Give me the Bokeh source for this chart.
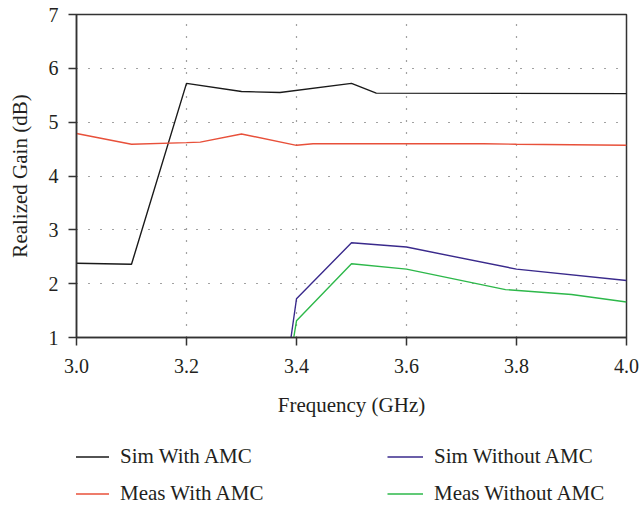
from bokeh.plotting import figure
from bokeh.models import Legend, LegendItem, FixedTicker, Range1d
from bokeh.layouts import column
from bokeh.embed import file_html
from bokeh.resources import INLINE

# Data
sim_with_x = [3.0, 3.1, 3.2, 3.3, 3.37, 3.5, 3.545, 4.0]
sim_with_y = [2.38, 2.36, 5.72, 5.57, 5.55, 5.72, 5.54, 5.53]

meas_with_x = [3.0, 3.1, 3.2, 3.225, 3.3, 3.4, 3.43, 3.6, 3.74, 3.8, 4.0]
meas_with_y = [4.79, 4.59, 4.62, 4.63, 4.78, 4.57, 4.60, 4.60, 4.60, 4.59, 4.57]

sim_without_x = [3.39, 3.4, 3.5, 3.6, 3.8, 4.0]
sim_without_y = [1.0, 1.72, 2.76, 2.68, 2.27, 2.06]

meas_without_x = [3.395, 3.4, 3.5, 3.6, 3.78, 3.9, 4.0]
meas_without_y = [1.0, 1.31, 2.37, 2.27, 1.89, 1.80, 1.66]

series_names = ["Sim With AMC", "Meas With AMC", "Sim Without AMC", "Meas Without AMC"]
series_colors = ["#1a1a1a", "#e8503a", "#3a2a8c", "#2db84a"]

x_ticks = [3.0, 3.2, 3.4, 3.6, 3.8, 4.0]
y_ticks = [1, 2, 3, 4, 5, 6, 7]

FONT = "Liberation Serif"
AX = "#333333"
TXT = "#231f20"

p = figure(width=640, height=425, output_backend="svg", toolbar_location=None,
           x_range=Range1d(3.0, 4.0), y_range=Range1d(1, 7),
           min_border_left=76, min_border_right=14, min_border_top=14,
           min_border_bottom=88)
p.background_fill_color = "white"
p.border_fill_color = "white"
p.outline_line_color = AX
p.outline_line_width = 1.5

for ax in (p.xaxis[0], p.yaxis[0]):
    ax.axis_line_color = AX
    ax.axis_line_width = 1.5
    ax.major_tick_line_color = AX
    ax.major_tick_line_width = 1.5
    ax.major_tick_out = 8
    ax.major_tick_in = 0
    ax.minor_tick_out = 0
    ax.minor_tick_in = 0
    ax.major_label_text_font = FONT
    ax.major_label_text_font_size = "20px"
    ax.major_label_text_color = TXT
    ax.axis_label_text_font = FONT
    ax.axis_label_text_font_size = "21px"
    ax.axis_label_text_font_style = "normal"
    ax.axis_label_text_color = TXT

p.xaxis.ticker = FixedTicker(ticks=x_ticks)
p.yaxis.ticker = FixedTicker(ticks=y_ticks)
p.xaxis.major_label_overrides = {t: f"{t:.1f}" for t in x_ticks}
p.yaxis.major_label_overrides = {t: str(t) for t in y_ticks}
p.xaxis.axis_label = "Frequency (GHz)"
p.yaxis.axis_label = "Realized Gain (dB)"
p.xaxis.major_label_standoff = 13
p.yaxis.major_label_standoff = 10
p.xaxis.axis_label_standoff = 17
p.yaxis.axis_label_standoff = 14

for g in (p.xgrid[0], p.ygrid[0]):
    g.grid_line_color = "#444444"
    g.grid_line_dash = "1 11"
    g.grid_line_width = 1.2

series = [(sim_with_x, sim_with_y), (meas_with_x, meas_with_y),
          (sim_without_x, sim_without_y), (meas_without_x, meas_without_y)]
for (xs, ys), c in zip(series, series_colors):
    p.line(xs, ys, line_color=c, line_width=1.4)

# Legend panel below the chart (its frame is aligned with the chart's frame)
lf = figure(width=640, height=84, output_backend="svg", toolbar_location=None,
            x_range=Range1d(0, 1), y_range=Range1d(0, 1),
            x_axis_location=None, y_axis_location=None,
            min_border_left=76, min_border_right=14, min_border_top=0,
            min_border_bottom=0)
lf.outline_line_color = None
lf.xgrid.visible = False
lf.ygrid.visible = False
# same series drawn here only to feed the legend (outside this panel's view range)
leg_renderers = [lf.line(xs, ys, line_color=c, line_width=1.4)
                 for (xs, ys), c in zip(series, series_colors)]


def make_legend(idx, vx):
    return Legend(items=[LegendItem(label=series_names[i], renderers=[leg_renderers[i]]) for i in idx],
                  location=(vx, 3), orientation="vertical",
                  background_fill_alpha=0, border_line_color=None,
                  padding=0, margin=0, spacing=12,
                  glyph_width=36, glyph_height=23, label_height=23,
                  label_standoff=11, label_text_font=FONT,
                  label_text_font_size="21px", label_text_color=TXT)


lf.add_layout(make_legend([0, 1], -3), "center")
lf.add_layout(make_legend([2, 3], 311), "center")

layout = column(p, lf, spacing=0)
open("out.html", "w").write(file_html(layout, INLINE))
